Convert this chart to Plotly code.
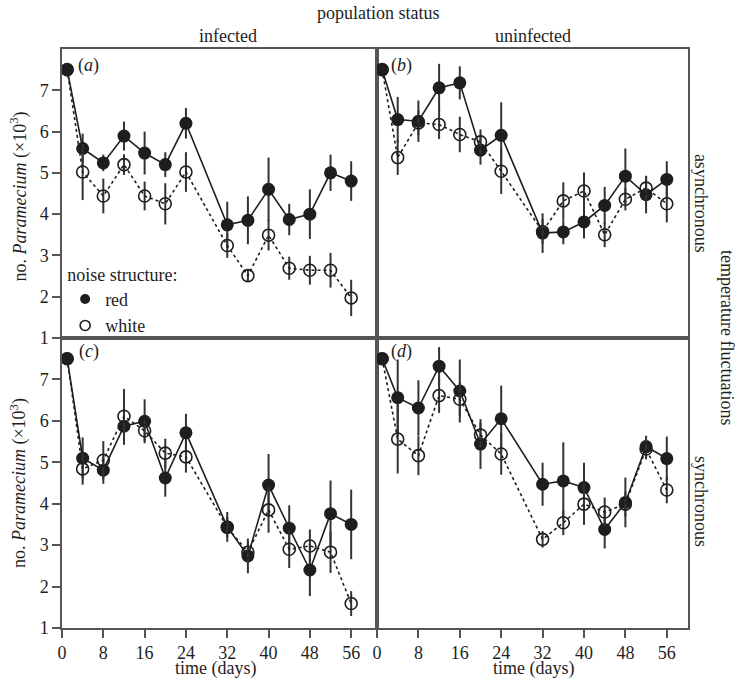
import plotly.graph_objects as go

days = [1, 4, 8, 12, 16, 20, 24, 32, 36, 40, 44, 48, 52, 56]
x_ticks = [0, 8, 16, 24, 32, 40, 48, 56]
y_ticks = [1, 2, 3, 4, 5, 6, 7]

# panel (a): infected, asynchronous
a_red = [7.5, 5.59, 5.24, 5.89, 5.48, 5.2, 6.2, 3.74, 3.85, 4.6, 3.87, 4.0, 5.0, 4.8]
a_red_err = [0, 0.36, 0.2, 0.35, 0.52, 0.3, 0.37, 0.56, 0.58, 0.77, 0.38, 0.6, 0.44, 0.48]
a_white = [7.5, 5.02, 4.44, 5.2, 4.44, 4.25, 5.02, 3.24, 2.51, 3.49, 2.69, 2.64, 2.64, 1.97]
a_white_err = [0, 0.68, 0.42, 0.25, 0.35, 0.5, 0.48, 0.3, 0.15, 0.37, 0.28, 0.35, 0.42, 0.44]

# panel (b): uninfected, asynchronous
b_red = [7.5, 6.29, 6.25, 7.06, 7.18, 5.55, 5.91, 3.54, 3.57, 3.81, 4.21, 4.92, 4.47, 4.84]
b_red_err = [0, 0.55, 0.5, 0.58, 0.4, 0.35, 0.8, 0.48, 0.3, 0.4, 0.45, 0.67, 0.45, 0.44]
b_white = [7.5, 5.37, 6.21, 6.17, 5.93, 5.75, 5.04, 3.58, 4.32, 4.56, 3.5, 4.36, 4.63, 4.25]
b_white_err = [0, 0.42, 0.3, 0.35, 0.43, 0.3, 0.55, 0.3, 0.45, 0.45, 0.3, 0.27, 0.3, 0.45]

# panel (c): infected, synchronous
c_red = [7.5, 5.1, 4.81, 5.87, 5.99, 4.62, 5.71, 3.44, 2.74, 4.45, 3.41, 2.4, 3.76, 3.5]
c_red_err = [0, 0.5, 0.33, 0.45, 0.53, 0.45, 0.46, 0.36, 0.42, 0.75, 0.55, 0.63, 0.8, 0.84]
c_white = [7.5, 4.84, 5.05, 6.11, 5.76, 5.22, 5.13, 3.43, 2.83, 3.85, 2.9, 2.98, 2.83, 1.59]
c_white_err = [0, 0.38, 0.46, 0.66, 0.26, 0.35, 0.38, 0.25, 0.25, 0.55, 0.45, 0.4, 0.5, 0.3]

# panel (d): uninfected, synchronous
d_red = [7.5, 6.56, 6.31, 7.32, 6.72, 5.44, 6.05, 4.47, 4.55, 4.39, 3.38, 4.03, 5.38, 5.09]
d_red_err = [0, 0.92, 0.67, 0.46, 0.76, 0.6, 0.8, 0.52, 0.93, 0.6, 0.46, 0.6, 0.26, 0.53]
d_white = [7.5, 5.56, 5.16, 6.61, 6.52, 5.66, 5.2, 3.14, 3.54, 3.99, 3.8, 3.99, 5.32, 4.33]
d_white_err = [0, 0.83, 0.47, 0.42, 0.4, 0.3, 0.5, 0.2, 0.3, 0.5, 0.35, 0.3, 0.25, 0.32]

panels = [
    ("x", "y", a_red, a_red_err, a_white, a_white_err),
    ("x2", "y2", b_red, b_red_err, b_white, b_white_err),
    ("x3", "y3", c_red, c_red_err, c_white, c_white_err),
    ("x4", "y4", d_red, d_red_err, d_white, d_white_err),
]

FONT = "Liberation Serif"
INK = "#1e1e1e"
FRAME = "#555555"

fig = go.Figure()
for xa, ya, red, red_err, white, white_err in panels:
    fig.add_trace(go.Scatter(
        x=days, y=red, xaxis=xa, yaxis=ya, mode="lines+markers",
        line=dict(color=INK, width=1.6),
        marker=dict(symbol="circle", size=13, color=INK),
        error_y=dict(type="data", array=red_err, visible=True, color="#333333", thickness=2, width=0),
        showlegend=False))
    fig.add_trace(go.Scatter(
        x=days, y=white, xaxis=xa, yaxis=ya, mode="lines+markers",
        line=dict(color=INK, width=1.6, dash="dot"),
        marker=dict(symbol="circle-open", size=12, color=INK, line=dict(width=1.6, color=INK)),
        error_y=dict(type="data", array=white_err, visible=True, color="#333333", thickness=2, width=0),
        showlegend=False))

# legend entries
fig.add_trace(go.Scatter(x=[None], y=[None], mode="markers", name="red",
                         marker=dict(symbol="circle", size=10, color=INK)))
fig.add_trace(go.Scatter(x=[None], y=[None], mode="markers", name="white",
                         marker=dict(symbol="circle-open", size=10, color=INK, line=dict(width=1.6, color=INK))))

xL = [0, 0.5032]
xR = [0.5032, 1]
yT = [0.5009, 1]
yB = [0, 0.5009]

common = dict(showline=True, mirror=True, linecolor=FRAME, linewidth=1.5,
              showgrid=False, zeroline=False,
              tickfont=dict(family=FONT, size=18, color=INK))

def xaxis(domain, anchor, rng, labels):
    d = dict(common, domain=domain, anchor=anchor, range=rng, tickvals=x_ticks)
    if labels:
        d.update(ticks="outside", ticklen=8, tickwidth=1.5, tickcolor=FRAME, showticklabels=True)
    else:
        d.update(ticks="", showticklabels=False)
    return d

def yaxis(domain, anchor, labels):
    d = dict(common, domain=domain, anchor=anchor, range=[1, 8], tickvals=y_ticks)
    if labels:
        d.update(ticks="outside", ticklen=8, tickwidth=1.5, tickcolor=FRAME, showticklabels=True)
    else:
        d.update(ticks="", showticklabels=False)
    return d

fig.update_layout(
    width=739, height=680,
    margin=dict(l=62, r=51, t=49, b=52),
    paper_bgcolor="white", plot_bgcolor="white",
    font=dict(family=FONT, size=18, color=INK),
    xaxis=xaxis(xL, "y", [0, 61], False),
    yaxis=yaxis(yT, "x", True),
    xaxis2=xaxis(xR, "y2", [0, 60.1], False),
    yaxis2=yaxis(yT, "x2", False),
    xaxis3=xaxis(xL, "y3", [0, 61], True),
    yaxis3=yaxis(yB, "x3", True),
    xaxis4=xaxis(xR, "y4", [0, 60.1], True),
    yaxis4=yaxis(yB, "x4", False),
    legend=dict(x=0.005, y=0.64, xanchor="left", yanchor="top",
                bgcolor="rgba(0,0,0,0)",
                title=dict(text="noise structure:", font=dict(family=FONT, size=18, color=INK)),
                font=dict(family=FONT, size=18, color=INK),
                itemwidth=30, tracegroupgap=0),
)

def ann(text, x, y, angle=0, size=18, xanchor="center", yanchor="middle"):
    fig.add_annotation(text=text, x=x, y=y, xref="paper", yref="paper",
                       showarrow=False, textangle=angle, xanchor=xanchor, yanchor=yanchor,
                       font=dict(family=FONT, size=size, color=INK))

ann("population status", 0.506, 1.0625)
ann("infected", 0.2647, 1.023)
ann("uninfected", 0.7518, 1.023)
ann("no. <i>Paramecium</i> (×10<sup>3</sup>)", -0.069, 0.745, angle=-90)
ann("no. <i>Paramecium</i> (×10<sup>3</sup>)", -0.069, 0.25, angle=-90)
ann("asynchronous", 1.0219, 0.733, angle=90)
ann("synchronous", 1.0219, 0.218, angle=90)
ann("temperature fluctuations", 1.0634, 0.5014, angle=90)
ann("time (days)", (216 - 62.3) / 626, -0.0695)
ann("time (days)", (534 - 62.3) / 626, -0.0695)
ann("(<i>a</i>)", 0.0427, 0.971)
ann("(<i>b</i>)", 0.5428, 0.971)
ann("(<i>c</i>)", 0.0427, 0.4772)
ann("(<i>d</i>)", 0.5428, 0.4772)

fig.write_html("out.html", config={"displayModeBar": False},
               post_script="document.body.style.margin='0px';")
